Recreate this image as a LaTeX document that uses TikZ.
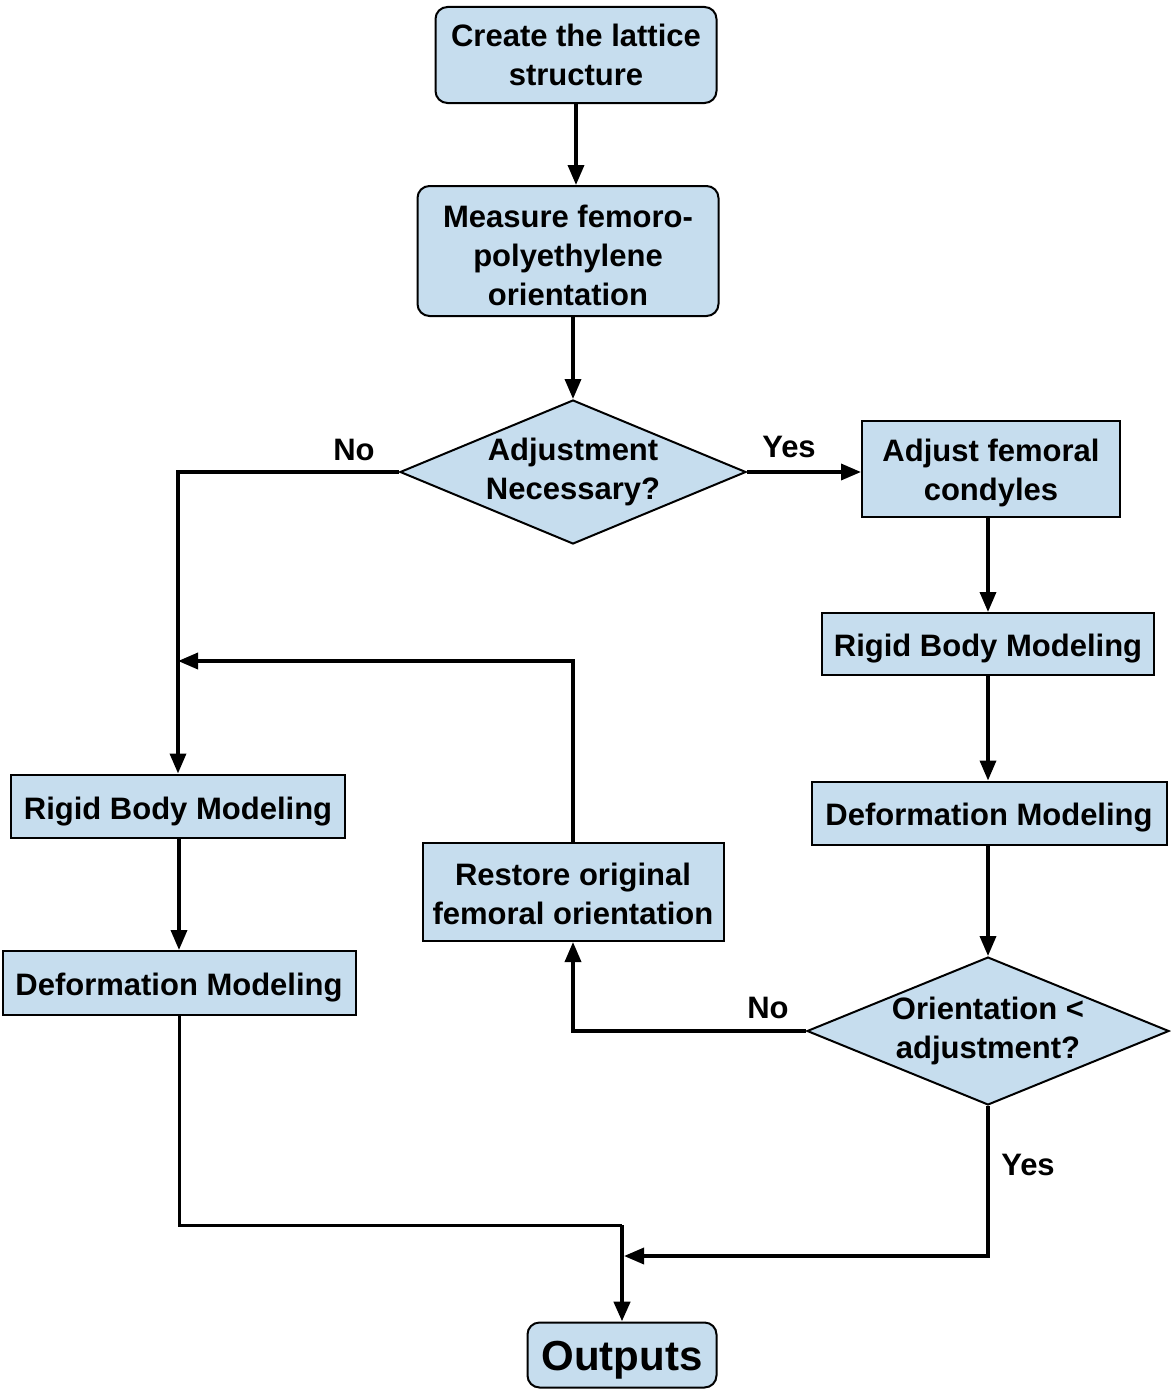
\documentclass[tikz,border=0pt]{standalone}
\usepackage{fontspec}
\setmainfont{Liberation Sans}
\usetikzlibrary{shapes.geometric,arrows.meta}
\definecolor{boxfill}{RGB}{198,221,238}
\newcommand{\lowerby}[1]{\rule{0pt}{#1}}
\begin{document}
\begin{tikzpicture}[x=1pt,y=-1pt,
  box/.style={draw=black,line width=2pt,fill=boxfill,inner sep=0pt,align=center,
    font=\fontsize{31}{39}\selectfont\bfseries},
  rbox/.style={box,rounded corners=12pt},
  dia/.style={box,diamond,aspect=2.4},
  lower/.style={execute at begin node={\rule{0pt}{#1}}},
  arr/.style={line width=3.5pt,-{Triangle[length=20pt,width=16pt]}},
  ln/.style={line width=3pt},
  lab/.style={font=\fontsize{31}{39}\selectfont\bfseries,inner sep=0pt}]
\useasboundingbox (0,0) rectangle (1170,1389);
\fill[white] (0,0) rectangle (1170,1389);

% nodes
\node[rbox,minimum width=281pt,minimum height=96pt] (b1) at (576,55) {Create the lattice\\structure};
\node[rbox,minimum width=301pt,minimum height=130pt] (b2) at (568,251) {\lowerby{31pt}Measure femoro-\\polyethylene\\orientation};
\node[dia,minimum width=346pt,minimum height=144pt] (d1) at (573,472) {Adjustment\\Necessary?};
\node[box,minimum width=258pt,minimum height=96pt] (adj) at (991,469) {\lowerby{31pt}Adjust femoral\\condyles};
\node[box,lower=32pt,minimum width=332pt,minimum height=62pt] (rbR) at (988,644) {Rigid Body Modeling};
\node[box,lower=32pt,minimum width=355pt,minimum height=63pt] (dfR) at (989,813) {Deformation Modeling};
\node[dia,minimum width=362pt,minimum height=144pt] (d2) at (988,1031) {Orientation <\\adjustment?};
\node[box,minimum width=301pt,minimum height=98pt] (rest) at (573,892) {\lowerby{27pt}Restore original\\femoral orientation};
\node[box,lower=33pt,minimum width=334pt,minimum height=63pt] (rbL) at (178,806) {Rigid Body Modeling};
\node[box,lower=32pt,minimum width=353pt,minimum height=64pt] (dfL) at (179,983) {Deformation Modeling};
\node[rbox,lower=39pt,minimum width=189pt,minimum height=65pt,font=\fontsize{42}{50}\selectfont\bfseries] (out) at (622,1355) {Outputs};

% labels
\node[lab] (no1) at (354,450) {No};
\node[lab] (yes1) at (789,447) {Yes};
\node[lab] (no2) at (768,1008) {No};
\node[lab] (yes2) at (1028,1165) {Yes};

% junction coordinates
\coordinate (j1) at (178,661);
\coordinate (j2) at (624,1256);
\coordinate (j3) at (622,1225);

% connectors
\draw[arr] (b1.south) -- (b1.south |- b2.north);
\draw[arr] (b2.south -| d1.north) -- (d1.north);
\draw[arr] (d1.east) -- (d1.east -| adj.west);
\draw[arr] (d1.west) -| (rbL.north);
\draw[arr] (adj.south -| rbR.north) -- (rbR.north);
\draw[arr] (rbR.south) -- (rbR.south |- dfR.north);
\draw[arr] (dfR.south -| d2.north) -- (d2.north);
\draw[arr] (d2.west) -| (rest.south);
\draw[arr] (rest.north) |- (j1);
\draw[arr] (rbL.south -| dfL.north) -- (dfL.north);
\draw[ln] (dfL.south) |- (j3);
\draw[line width=4.5pt,-{Triangle[length=20pt,width=16pt]}] (j3) -- (out.north);
\draw[arr] (d2.south) |- (j2);
\end{tikzpicture}
\end{document}
